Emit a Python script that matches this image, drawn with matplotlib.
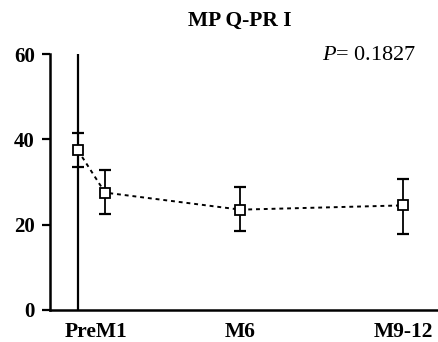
import matplotlib
matplotlib.use("Agg")
import matplotlib.pyplot as plt

# months after baseline
months = [0, 1, 6, 12]
means = [37.4, 27.5, 23.5, 24.5]
upper = [41.4, 32.9, 28.9, 30.8]
lower = [33.4, 22.4, 18.4, 17.9]
label_text = "PreM1"
tick_labels = ["M6", "M9-12"]
p_text = "$P$= 0.1827"

plt.rcParams['font.family'] = ['Liberation Serif', 'DejaVu Serif']
plt.rcParams['mathtext.fontset'] = 'custom'
plt.rcParams['mathtext.it'] = 'Liberation Serif:italic'
plt.rcParams['mathtext.rm'] = 'Liberation Serif'

fig = plt.figure(figsize=(4.39, 3.42), dpi=100)
ax = fig.add_axes([0.114, 0.094, 0.881, 0.748])

err_lo = [m - l for m, l in zip(means, lower)]
err_hi = [u - m for m, u in zip(means, upper)]

# baseline vertical line
ax.plot([0, 0], [0, 60], color='black', lw=1.6, zorder=1)

ax.errorbar(months, means, yerr=[err_lo, err_hi], fmt='none', ecolor='black',
            elinewidth=1.3, capsize=4.3, capthick=1.6, zorder=2)
ax.plot(months, means, color='black', lw=1.4, linestyle=(0, (2, 2)),
        marker='s', markersize=7.5, markerfacecolor='white',
        markeredgecolor='black', markeredgewidth=1.3, zorder=3)

ax.set_xlim(-1.03, 13.25)
ax.set_ylim(0, 60)
ax.set_yticks([0, 20, 40, 60])
ax.set_xticks([0.66, 6, 12])
ax.set_xticklabels([label_text] + tick_labels)
for lab in ax.get_xticklabels():
    lab.set_fontweight('bold')
    lab.set_fontsize(15.5)
for lab in ax.get_yticklabels():
    lab.set_fontweight('bold')
    lab.set_fontsize(15)
ax.tick_params(axis='x', length=0, pad=9)
ax.tick_params(axis='y', length=6, width=1.6, pad=5, direction='out')

for s in ['top', 'right']:
    ax.spines[s].set_visible(False)
for s in ['left', 'bottom']:
    ax.spines[s].set_linewidth(1.8)

fig.text(0.547, 0.94, "MP Q-PR I", ha='center', va='center',
         fontsize=15.5, fontweight='bold')
ax.text(10.75, 59.6, p_text, ha='center', va='center', fontsize=16)

fig.savefig("out.png", dpi=100)
